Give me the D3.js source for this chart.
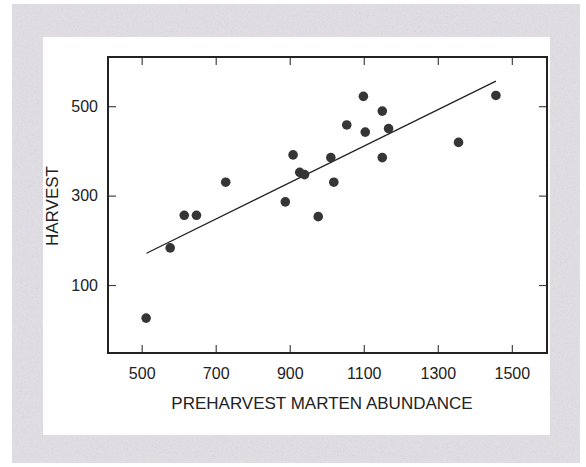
<!DOCTYPE html>
<html>
<head>
<meta charset="utf-8">
<script src="https://cdn.jsdelivr.net/npm/d3@7"></script>
<style>
  body { margin: 0; background: #fff; }
  svg { display: block; }
  text { font-family: "Liberation Sans", Arial, sans-serif; fill: #222; }
</style>
</head>
<body>
<svg id="chart" width="586" height="467"></svg>
<script>
// preharvest abundance vs harvest
var abundance = [512, 577, 615, 648, 727, 888, 909, 927, 940, 977,
  1011, 1019, 1054, 1099, 1104, 1150, 1150, 1167, 1356, 1457];
var harvest = [26, 183, 256, 256, 330, 286, 391, 352, 347, 253,
  385, 330, 458, 522, 442, 489, 385, 450, 419, 524];
// fitted line end points
var fitX = [513, 1457];
var fitY = [171, 556];
var xTicks = [500, 700, 900, 1100, 1300, 1500];
var yTicks = [100, 300, 500];

var svg = d3.select('#chart');

var defs = svg.append('defs');
var f = defs.append('filter').attr('id', 'grain').attr('x', 0).attr('y', 0).attr('width', 1).attr('height', 1);
f.append('feTurbulence').attr('type', 'fractalNoise').attr('baseFrequency', 1.2).attr('numOctaves', 2).attr('seed', 3).attr('result', 'n');
f.append('feColorMatrix').attr('in', 'n').attr('type', 'matrix')
  .attr('values', '0 0 0 0 0.6  0 0 0 0 0.6  0 0 0 0 0.65  3 0 0 0 -1.4')
  .attr('result', 'g');
f.append('feComposite').attr('in', 'g').attr('in2', 'SourceGraphic').attr('operator', 'in');

// speckled frame + white panel
svg.append('rect').attr('x', 12).attr('y', 4).attr('width', 568).attr('height', 459).attr('fill', '#e0dee3');
svg.append('rect').attr('x', 12).attr('y', 4).attr('width', 568).attr('height', 459).attr('fill', '#fff')
  .attr('filter', 'url(#grain)').attr('opacity', 0.45);
svg.append('rect').attr('x', 43).attr('y', 37).attr('width', 507).attr('height', 398).attr('fill', '#fff');

var plotL = 108, plotR = 547, plotT = 57, plotB = 353;

var x = d3.scaleLinear().domain([409, 1595]).range([plotL, plotR]);
var y = d3.scaleLinear().domain([-52, 610]).range([plotB, plotT]);

var tickLen = 8;

// axes: ticks inside, labels only left/bottom
svg.append('g').attr('transform', 'translate(0,' + plotB + ')')
  .call(d3.axisBottom(x).tickValues(xTicks).tickSize(-tickLen).tickPadding(15).tickFormat(d3.format('d')));
svg.append('g').attr('transform', 'translate(0,' + plotT + ')')
  .call(d3.axisTop(x).tickValues(xTicks).tickSize(-tickLen).tickFormat(''));
svg.append('g').attr('transform', 'translate(' + plotL + ',0)')
  .call(d3.axisLeft(y).tickValues(yTicks).tickSize(-tickLen).tickPadding(10).tickFormat(d3.format('d')));
svg.append('g').attr('transform', 'translate(' + plotR + ',0)')
  .call(d3.axisRight(y).tickValues(yTicks).tickSize(-tickLen).tickFormat(''));

svg.selectAll('.domain').remove();
svg.selectAll('.tick line').attr('stroke', '#444').attr('stroke-width', 1.2);
svg.selectAll('.tick text').attr('font-size', 16).attr('fill', '#222')
  .attr('font-family', '"Liberation Sans", Arial, sans-serif');

svg.append('rect')
  .attr('x', plotL).attr('y', plotT)
  .attr('width', plotR - plotL).attr('height', plotB - plotT)
  .attr('fill', 'none').attr('stroke', '#222').attr('stroke-width', 2);

// regression line
svg.append('line')
  .attr('x1', x(fitX[0])).attr('y1', y(fitY[0]))
  .attr('x2', x(fitX[1])).attr('y2', y(fitY[1]))
  .attr('stroke', '#222').attr('stroke-width', 1.3);

svg.selectAll('circle.pt')
  .data(abundance)
  .enter()
  .append('circle')
  .attr('class', 'pt')
  .attr('cx', function (d) { return x(d); })
  .attr('cy', function (d, i) { return y(harvest[i]); })
  .attr('r', 4.8)
  .attr('fill', '#353535');

svg.append('text')
  .attr('x', 322).attr('y', 409)
  .attr('text-anchor', 'middle').attr('font-size', 17)
  .text('PREHARVEST MARTEN ABUNDANCE');

svg.append('text')
  .attr('transform', 'translate(58,206) rotate(-90)')
  .attr('text-anchor', 'middle').attr('font-size', 17)
  .text('HARVEST');
</script>
</body>
</html>
